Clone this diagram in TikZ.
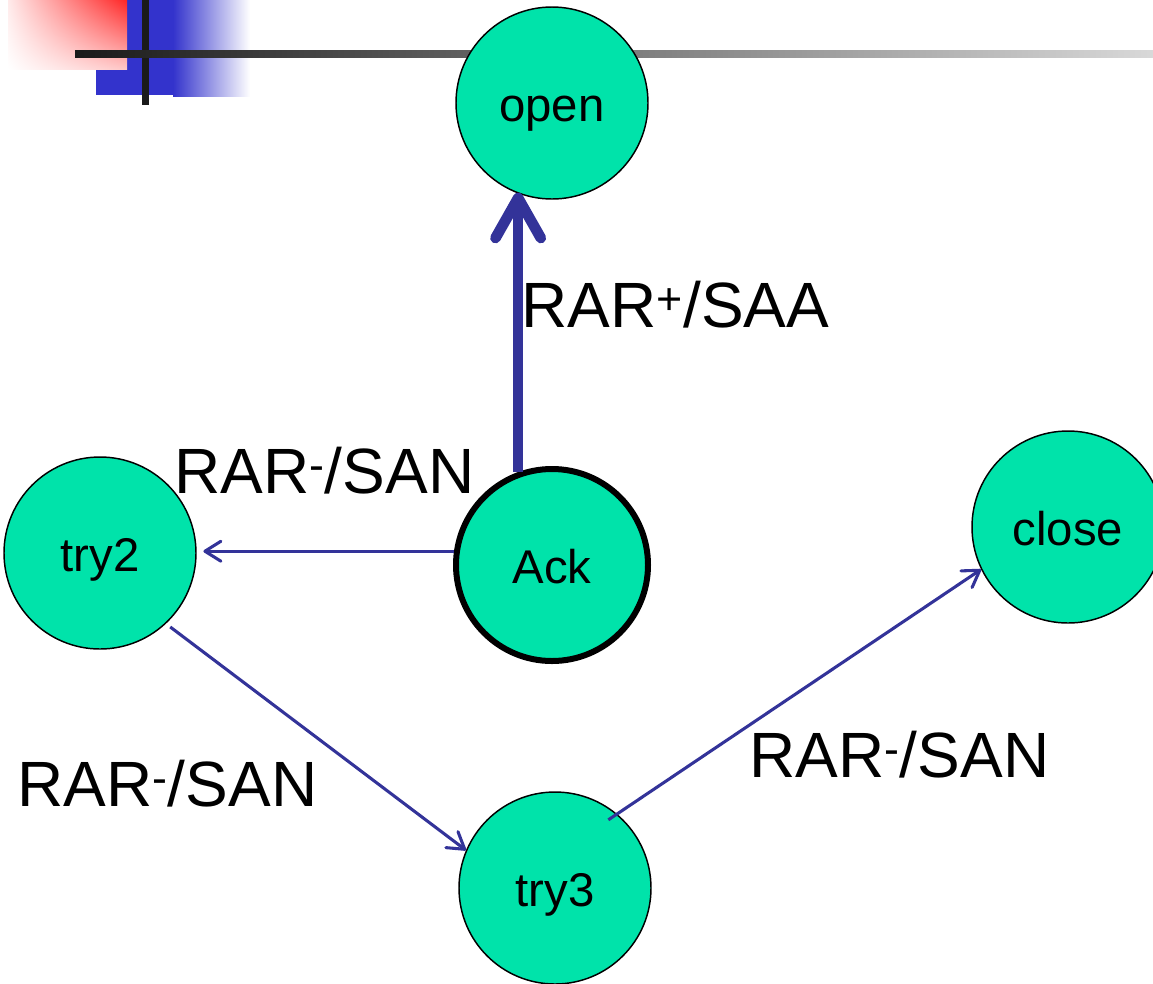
\documentclass[tikz,border=0pt]{standalone}
\usepackage{fontspec}
\setmainfont{Liberation Sans}
\usetikzlibrary{arrows.meta,shadings}
\definecolor{statefill}{HTML}{00E3AA}
\definecolor{edgeblue}{HTML}{333399}
\definecolor{barblue}{HTML}{3333CC}
\definecolor{bardark}{HTML}{1A1A1A}
\begin{document}
\begin{tikzpicture}[x=0.75pt,y=-0.75pt,
  state/.style={circle, draw=black, line width=1.1pt, fill=statefill,
    minimum size=144pt, inner sep=0pt, text height=27pt, text depth=0pt,
    font=\fontsize{35.5pt}{40pt}\selectfont},
  startstate/.style={state, line width=4.5pt},
  trans/.style={draw=edgeblue, line width=2.3pt,
    -{Straight Barb[length=12pt,width=15pt,round]}},
  mainedge/.style={draw=edgeblue, line width=8pt,
    -{Straight Barb[length=30pt,width=34pt,round]}},
  lbl/.style={anchor=base west, inner sep=0pt, font=\fontsize{48pt}{55pt}\selectfont}]
\useasboundingbox (0,0) rectangle (1153,983);

% header ornament
\fill[barblue] (96,0) rectangle (173,95);
\shade[left color=barblue, right color=white] (173,0) rectangle (250,96);
\shade[upper right=red!85, upper left=red!8, lower right=red!22, lower left=white]
  (8,0) rectangle (127,69);
\fill[bardark] (142,0) rectangle (149,105);
\shade[left color=bardark, right color=black!15] (75,50) rectangle (1153,57);

% states
\node[state] (open) at (552,103) {open};
\node[startstate] (ack) at (552,565) {Ack};
\node[state] (try2) at (100,553) {try2};
\node[state] (close) at (1068,527) {close};
\node[state] (try3) at (555,888) {try3};

% transitions
\draw[mainedge] (ack.110) -- (ack.110 |- open.248);
\draw[trans] (ack.172) -- ([xshift=5pt]try2.east |- ack.172);
\draw[trans, shorten <=4pt] (try2.313) -- (try3.157);
\draw[trans, shorten <=-8pt] (try3.50) -- (close.206);

% transition labels
\node[lbl] (lopen) at (521,327) {RAR\textsuperscript{+}/SAA};
\node[lbl] (ltry2) at (174,493) {RAR\textsuperscript{-}/SAN};
\node[lbl] (ltry3) at (17,806) {RAR\textsuperscript{-}/SAN};
\node[lbl] (lclose) at (749,777) {RAR\textsuperscript{-}/SAN};
\end{tikzpicture}
\end{document}
